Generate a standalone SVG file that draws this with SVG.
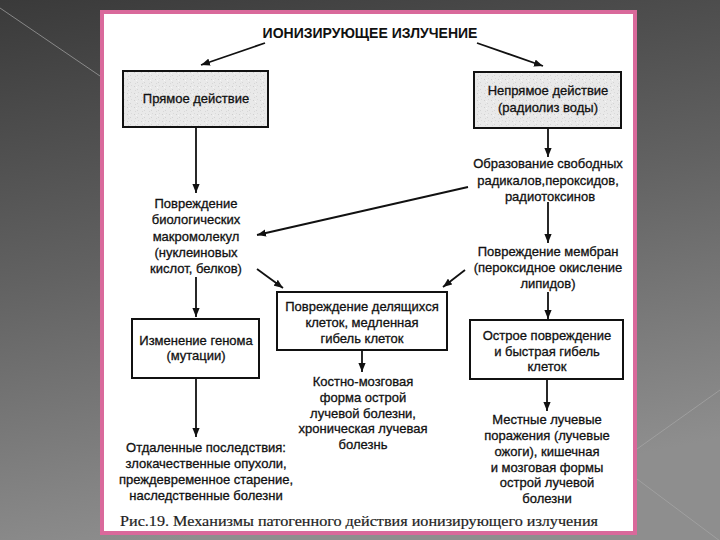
<svg xmlns="http://www.w3.org/2000/svg" width="720" height="540" viewBox="0 0 720 540">
  <defs>
    <linearGradient id="bg" x1="0" y1="0" x2="0.25" y2="1">
      <stop offset="0" stop-color="#3a3a3a"/>
      <stop offset="0.5" stop-color="#626262"/>
      <stop offset="1" stop-color="#8e8e8e"/>
    </linearGradient>
    <pattern id="stipple" width="7" height="7" patternUnits="userSpaceOnUse">
      <rect width="7" height="7" fill="#e9e9e9"/>
      <rect x="1" y="2" width="1" height="1" fill="#cfcfcf"/>
      <rect x="4" y="5" width="1" height="1" fill="#d4d4d4"/>
      <rect x="5" y="1" width="1" height="1" fill="#dadada"/>
      <rect x="2" y="6" width="1" height="1" fill="#d8d8d8"/>
      <rect x="3" y="3" width="1" height="1" fill="#f6f6f6"/>
    </pattern>
    <marker id="ah" viewBox="0 0 10 8" refX="10" refY="4" markerWidth="9" markerHeight="7.5" markerUnits="userSpaceOnUse" orient="auto">
      <path d="M0,0 L10,4 L0,8 z" fill="#111"/>
    </marker>
    <style>
      .t { font-family: "Liberation Sans", Arial, sans-serif; font-size: 13px; text-anchor: middle; fill: #111; stroke: #111; stroke-width: 0.3; }
      .title { font-family: "Liberation Sans", Arial, sans-serif; font-size: 14px; font-weight: bold; text-anchor: middle; fill: #111; }
      .cap { font-family: "Liberation Serif", "Times New Roman", serif; font-size: 15px; fill: #222; stroke: #222; stroke-width: 0.2; }
      .box { stroke: #111; stroke-width: 2; fill: #fff; }
      .gbox { stroke: #111; stroke-width: 2; fill: url(#stipple); }
      .c line { stroke: #111; stroke-width: 1.8; marker-end: url(#ah); }
      .deco { stroke: #a8a8a8; stroke-width: 1; opacity: 0.7; }
    </style>
  </defs>

  <rect width="720" height="540" fill="url(#bg)"/>
  <line class="deco" x1="0" y1="8" x2="100" y2="76"/>
  <line class="deco" x1="637" y1="449" x2="720" y2="390"/>
  <line class="deco" x1="637" y1="479" x2="720" y2="541"/>

  <rect x="102" y="12" width="533" height="521" fill="#fff" stroke="#d9699b" stroke-width="4"/>

  <g id="n-title"><text class="title" x="370" y="37.5">ИОНИЗИРУЮЩЕЕ ИЗЛУЧЕНИЕ</text></g>

  <g id="n-direct">
    <rect class="gbox" x="123" y="71" width="145" height="56"/>
    <text class="t" x="196" y="103">Прямое действие</text>
  </g>

  <g id="n-indirect">
    <rect class="gbox" x="474" y="72" width="147" height="56"/>
    <text class="t" x="548" y="95">Непрямое действие</text>
    <text class="t" x="548" y="112">(радиолиз воды)</text>
  </g>

  <g id="n-macro">
    <text class="t" x="196" y="208">Повреждение</text>
    <text class="t" x="196" y="224">биологических</text>
    <text class="t" x="196" y="240.5">макромолекул</text>
    <text class="t" x="196" y="256.5">(нуклеиновых</text>
    <text class="t" x="196" y="272.5">кислот, белков)</text>
  </g>

  <g id="n-radicals">
    <text class="t" x="548" y="168">Образование свободных</text>
    <text class="t" x="548" y="184.5">радикалов,пероксидов,</text>
    <text class="t" x="550" y="200.5">радиотоксинов</text>
  </g>

  <g id="n-membrane">
    <text class="t" x="548" y="256">Повреждение мембран</text>
    <text class="t" x="548" y="272">(пероксидное окисление</text>
    <text class="t" x="548" y="288">липидов)</text>
  </g>

  <g id="n-dividing">
    <rect class="box" x="277" y="292" width="170" height="58"/>
    <text class="t" x="362" y="311">Повреждение делящихся</text>
    <text class="t" x="362" y="327">клеток, медленная</text>
    <text class="t" x="362" y="342.5">гибель клеток</text>
  </g>

  <g id="n-genome">
    <rect class="box" x="132" y="319" width="127" height="59"/>
    <text class="t" x="196" y="344.5">Изменение генома</text>
    <text class="t" x="196" y="360">(мутации)</text>
  </g>

  <g id="n-acute">
    <rect class="box" x="470" y="320" width="153" height="59"/>
    <text class="t" x="547" y="339.5">Острое повреждение</text>
    <text class="t" x="547" y="355.5">и быстрая гибель</text>
    <text class="t" x="547" y="371">клеток</text>
  </g>

  <g id="n-remote">
    <text class="t" x="206" y="452">Отдаленные последствия:</text>
    <text class="t" x="206" y="468">злокачественные опухоли,</text>
    <text class="t" x="206" y="484">преждевременное старение,</text>
    <text class="t" x="206" y="500">наследственные болезни</text>
  </g>

  <g id="n-marrow">
    <text class="t" x="363" y="386">Костно-мозговая</text>
    <text class="t" x="363" y="401.5">форма острой</text>
    <text class="t" x="363" y="417.5">лучевой болезни,</text>
    <text class="t" x="363" y="433">хроническая лучевая</text>
    <text class="t" x="363" y="448.5">болезнь</text>
  </g>

  <g id="n-local">
    <text class="t" x="547" y="424">Местные лучевые</text>
    <text class="t" x="547" y="439.5">поражения (лучевые</text>
    <text class="t" x="547" y="455.5">ожоги), кишечная</text>
    <text class="t" x="547" y="471.5">и мозговая формы</text>
    <text class="t" x="547" y="487">острой лучевой</text>
    <text class="t" x="547" y="502.5">болезни</text>
  </g>

  <g id="caption">
    <text class="cap" x="120" y="526" textLength="478" lengthAdjust="spacingAndGlyphs">Рис.19. Механизмы патогенного действия ионизирующего излучения</text>
  </g>

  <g id="connectors" class="c">
    <line x1="265" y1="43" x2="201" y2="65"/>
    <line x1="477" y1="43" x2="543" y2="66"/>
    <line x1="196" y1="127" x2="196" y2="193"/>
    <line x1="548" y1="128" x2="548" y2="157"/>
    <line x1="468" y1="187" x2="257" y2="235"/>
    <line x1="548" y1="202" x2="548" y2="243"/>
    <line x1="257" y1="269" x2="283" y2="288"/>
    <line x1="465" y1="270" x2="443" y2="287"/>
    <line x1="196" y1="277" x2="196" y2="317"/>
    <line x1="548" y1="292" x2="548" y2="319"/>
    <line x1="196" y1="378" x2="196" y2="437"/>
    <line x1="362" y1="350" x2="362" y2="372"/>
    <line x1="547" y1="379" x2="547" y2="411"/>
  </g>
</svg>
